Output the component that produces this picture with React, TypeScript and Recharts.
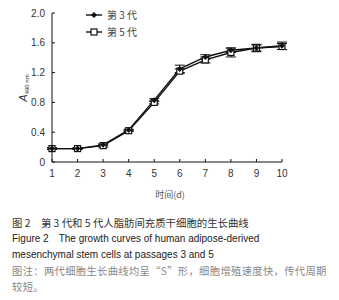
import { LineChart, Line, XAxis, YAxis, ErrorBar } from "recharts";

const days = [1, 2, 3, 4, 5, 6, 7, 8, 9, 10];
const gen3 = [0.18, 0.18, 0.23, 0.43, 0.83, 1.25, 1.41, 1.5, 1.53, 1.56];
const gen5 = [0.18, 0.18, 0.22, 0.42, 0.8, 1.22, 1.37, 1.47, 1.53, 1.55];
const err3 = [0.01, 0.01, 0.01, 0.01, 0.02, 0.05, 0.03, 0.03, 0.05, 0.05];
const err5 = [0.01, 0.01, 0.02, 0.01, 0.02, 0.03, 0.04, 0.06, 0.04, 0.04];
const yTicks = [0, 0.4, 0.8, 1.2, 1.6, 2.0];

const data = days.map((d, i) => ({ day: d, g3: gen3[i], g5: gen5[i], e3: err3[i], e5: err5[i] }));

const tickStyle = { fontSize: 10, fill: "#333", fontFamily: "Liberation Sans, Arial, sans-serif" };

const Diamond = (props: any) => {
  const { cx, cy } = props;
  if (cx == null || cy == null) return null;
  return <polygon points={`${cx},${cy - 3} ${cx + 3},${cy} ${cx},${cy + 3} ${cx - 3},${cy}`} fill="#111" />;
};

const Square = (props: any) => {
  const { cx, cy } = props;
  if (cx == null || cy == null) return null;
  return <rect x={cx - 3} y={cy - 3} width={6} height={6} fill="#fff" stroke="#111" strokeWidth={1.2} />;
};

const YLabel = () => (
  <text x={27} y={88} transform="rotate(-90 27 88)" textAnchor="middle" fill="#333" fontFamily="Liberation Sans, Arial, sans-serif">
    <tspan fontSize={11} fontStyle="italic">A</tspan>
    <tspan fontSize={6} dy={2}>490 nm</tspan>
  </text>
);

export default function App() {
  return (
    <div style={{ position: "absolute", left: 0, top: 0, width: 339, height: 300, background: "#fff", fontFamily: "Liberation Sans, Arial, sans-serif" }}>
      <LineChart width={339} height={205} data={data} margin={{ top: 13, right: 57, left: 0, bottom: 13 }}>
        <XAxis
          dataKey="day" type="number" domain={[1, 10]} ticks={days}
          stroke="#111" tickSize={-3} tickMargin={11} tick={tickStyle} height={30}
        />
        <YAxis
          type="number" domain={[0, 2]} ticks={yTicks} width={52}
          tickFormatter={(v: number) => (v === 0 ? "0" : v.toFixed(1))}
          stroke="#111" tickSize={-3} tickMargin={10} tick={tickStyle}
          label={<YLabel />}
        />
        <Line dataKey="g5" stroke="#111" strokeWidth={1.4} dot={<Square />} isAnimationActive={false}>
          <ErrorBar dataKey="e5" width={5} stroke="#111" strokeWidth={1} direction="y" />
        </Line>
        <Line dataKey="g3" stroke="#111" strokeWidth={1.4} dot={<Diamond />} isAnimationActive={false}>
          <ErrorBar dataKey="e3" width={5} stroke="#111" strokeWidth={1} direction="y" />
        </Line>
      </LineChart>
      {/* x axis title */}
      <div style={{ position: "absolute", left: 140, top: 188, width: 60, textAlign: "center", fontSize: 9, color: "#555", fontFamily: "Noto Sans CJK SC" }}>时间(d)</div>
      {/* Legend */}
      <svg style={{ position: "absolute", left: 84, top: 8 }} width={60} height={30}>
        <line x1={2} y1={7} x2={18} y2={7} stroke="#111" strokeWidth={1.4} />
        <Diamond cx={10} cy={7} />
        <text x={23} y={11} fontSize={10} fill="#444" fontFamily="Noto Sans CJK SC">第 3 代</text>
        <line x1={2} y1={24} x2={18} y2={24} stroke="#111" strokeWidth={1.4} />
        <Square cx={10} cy={24} />
        <text x={23} y={28} fontSize={10} fill="#444" fontFamily="Noto Sans CJK SC">第 5 代</text>
      </svg>
      <div style={{ position: "absolute", left: 12, top: 215, width: 327, lineHeight: "16px" }}>
        <div style={{ fontSize: 10.4, color: "#333", fontFamily: "Noto Sans CJK SC" }}>图 2　第 3 代和 5 代人脂肪间充质干细胞的生长曲线</div>
        <div style={{ fontSize: 10, color: "#222" }}>Figure 2　The growth curves of human adipose-derived</div>
        <div style={{ fontSize: 10, color: "#222" }}>mesenchymal stem cells at passages 3 and 5</div>
        <div style={{ fontSize: 10.3, letterSpacing: 0.33, color: "#888", fontFamily: "Noto Sans CJK SC", whiteSpace: "nowrap" }}>图注：两代细胞生长曲线均呈“S”形，细胞增殖速度快，传代周期</div>
        <div style={{ fontSize: 10.3, letterSpacing: 0.33, color: "#888", fontFamily: "Noto Sans CJK SC" }}>较短。</div>
      </div>
    </div>
  );
}
